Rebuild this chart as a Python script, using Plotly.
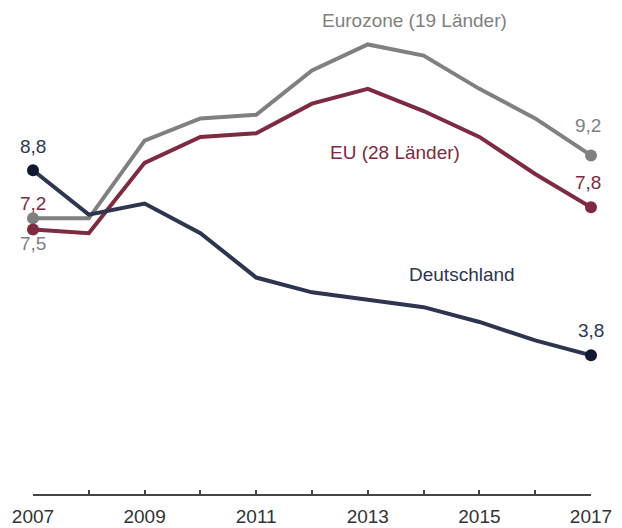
import plotly.graph_objects as go

years = list(range(2007, 2018))
deutschland = [8.8, 7.6, 7.9, 7.1, 5.9, 5.5, 5.3, 5.1, 4.7, 4.2, 3.8]
eu28 = [7.2, 7.1, 9.0, 9.7, 9.8, 10.6, 11.0, 10.4, 9.7, 8.7, 7.8]
ez19 = [7.5, 7.5, 9.6, 10.2, 10.3, 11.5, 12.2, 11.9, 11.0, 10.2, 9.2]
tick_labels = ["2007", "", "2009", "", "2011", "", "2013", "", "2015", "", "2017"]

c_de = "#2d3550"
c_de_dot = "#121830"
c_eu = "#7e2a40"
c_ez = "#808080"
FONT = "Liberation Sans, Arial, sans-serif"
FS = 19

fig = go.Figure()

def add_series(vals, color, dotcolor):
    fig.add_trace(go.Scatter(x=years, y=vals, mode="lines", line=dict(color=color, width=4),
                             hoverinfo="skip", cliponaxis=False, showlegend=False))
    fig.add_trace(go.Scatter(x=[years[0], years[-1]], y=[vals[0], vals[-1]], mode="markers",
                             marker=dict(color=dotcolor, size=12), cliponaxis=False,
                             showlegend=False))

add_series(ez19, c_ez, c_ez)
add_series(eu28, c_eu, c_eu)
add_series(deutschland, c_de, c_de_dot)

def fmt(v):
    return f"{v:.1f}".replace(".", ",")

annotations = [
    dict(x=2007, y=9.45, text=fmt(deutschland[0]), color=c_de),
    dict(x=2007, y=7.91, text=fmt(eu28[0]), color=c_eu),
    dict(x=2007, y=6.83, text=fmt(ez19[0]), color=c_ez),
    dict(x=2017, y=4.48, text=fmt(deutschland[-1]), color=c_de),
    dict(x=2016.95, y=10.02, text=fmt(ez19[-1]), color=c_ez),
    dict(x=2016.95, y=8.48, text=fmt(eu28[-1]), color=c_eu),
    dict(x=2013.83, y=12.85, text="Eurozone (19 Länder)", color=c_ez),
    dict(x=2013.49, y=9.27, text="EU (28 Länder)", color=c_eu),
    dict(x=2014.69, y=5.97, text="Deutschland", color=c_de),
]
for a in annotations:
    fig.add_annotation(x=a["x"], y=a["y"], text=a["text"], showarrow=False,
                       xref="x", yref="y", xanchor="center", yanchor="middle",
                       font=dict(family=FONT, size=FS, color=a["color"]))

fig.update_layout(
    width=622, height=528,
    margin=dict(l=33, r=31, t=0, b=34, autoexpand=False),
    paper_bgcolor="white", plot_bgcolor="white",
    font=dict(family=FONT, size=FS, color="#333333"),
    hovermode=False,
    xaxis=dict(range=[2007, 2017], tickvals=years, ticktext=tick_labels, automargin=False,
               showline=True, linecolor="#444444", linewidth=1.5,
               ticks="inside", ticklen=4, tickcolor="#444444", tickwidth=1.5,
               ticklabelstandoff=4,
               showgrid=False, zeroline=False, tickfont=dict(size=FS, color="#333333")),
    yaxis=dict(range=[0.05, 0.05 + 494 / 37], visible=False, showgrid=False, zeroline=False,
               automargin=False),
)

fig.write_html("out.html", config={"displayModeBar": False},
               post_script="document.body.style.margin='0';document.body.style.padding='0';")
